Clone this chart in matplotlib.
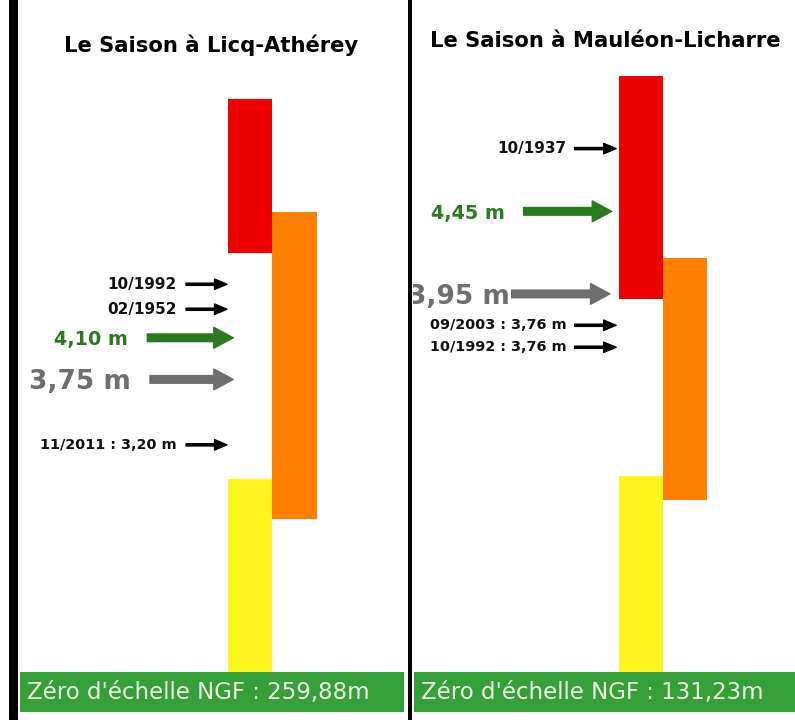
import matplotlib.pyplot as plt
from matplotlib.patches import Rectangle
from matplotlib import transforms

# vigilance bands (level in m on the gauge): red, orange, yellow
band_colors = ["#ec0000", "#ff8000", "#fff51e"]
band_cols = [0, 1, 0]

licq_bottom = [4.81, 2.58, 1.29]
licq_top = [6.11, 5.16, 2.91]
mauleon_bottom = [3.92, 2.70, 1.66]
mauleon_top = [5.27, 4.17, 2.85]

# recorded floods (label, level)
licq_events = ["10/1992", "02/1952", "11/2011 : 3,20 m"]
licq_event_levels = [4.55, 4.34, 3.20]
mauleon_events = ["10/1937", "09/2003 : 3,76 m", "10/1992 : 3,76 m"]
mauleon_event_levels = [4.83, 3.76, 3.76]

# reference levels: green then grey
licq_refs = [4.10, 3.75]
mauleon_refs = [4.45, 3.95]

titles = ["Le Saison à Licq-Athérey", "Le Saison à Mauléon-Licharre"]
ngf_zero = ["259,88m", "131,23m"]

W, H = 795, 720
fig = plt.figure(figsize=(W / 100, H / 100), dpi=100)
fig.patch.set_facecolor("white")


def fx(px):
    return px / W


def fy(py):
    return 1 - py / H


def fmt(v):
    return ("%.2f" % v).replace(".", ",") + " m"


def panel(left_px, right_px, ylim, bottoms, tops, events, levels, refs, lay):
    ax = fig.add_axes([fx(left_px), fy(672), fx(right_px - left_px), 672 / H])
    ax.set_xlim(-5.17, 3.5)
    ax.set_ylim(*ylim)
    ax.axis("off")
    for b, t, c, col in zip(bottoms, tops, band_colors, band_cols):
        ax.bar(col, t - b, bottom=b, width=1.0, color=c, linewidth=0)

    # stack repeated levels downwards
    seen = {}
    for lab, v in zip(events, levels):
        n = seen.get(v, 0)
        seen[v] = n + 1
        tr = transforms.offset_copy(ax.transData, fig=fig, x=0, y=-22 * n, units="dots")
        ax.annotate("", xy=(lay["tip"], v), xytext=(lay["tail"], v),
                    xycoords=tr, textcoords=tr,
                    arrowprops=dict(arrowstyle="simple,head_length=9,head_width=7.5,tail_width=1.6",
                                    mutation_scale=1, color="black", shrinkA=0, shrinkB=0))
        ax.text(lay["txt"], v, lab, transform=tr, ha="right", va="center",
                fontsize=10.4 if ":" in lab else 11, fontweight="bold", color="#111111")

    for v, c, fs, key in zip(refs, ["#2b7a1f", "#6e6e6e"], lay["ref_fs"], ["g", "r"]):
        ax.annotate("", xy=(lay[key + "tip"], v), xytext=(lay[key + "tail"], v),
                    arrowprops=dict(arrowstyle="simple,head_length=14,head_width=15,tail_width=5.5",
                                    mutation_scale=1, color=c, shrinkA=0, shrinkB=0))
        ax.text(lay[key + "txt"], v, fmt(v), ha="right", va="center_baseline",
                fontsize=fs, fontweight="bold", color=c, clip_on=True)
    return ax


panel(20, 406, (1.29, 6.94), licq_bottom, licq_top, licq_events, licq_event_levels, licq_refs,
      dict(tip=-0.52, tail=-1.44, txt=-1.66, gtip=-0.38, gtail=-2.31, gtxt=-2.74,
           rtip=-0.38, rtail=-2.25, rtxt=-2.68, ref_fs=[13.8, 19]))
panel(413, 795, (1.66, 5.73), mauleon_bottom, mauleon_top, mauleon_events, mauleon_event_levels,
      mauleon_refs,
      dict(tip=-0.56, tail=-1.50, txt=-1.68, gtip=-0.66, gtail=-2.66, gtxt=-3.09,
           rtip=-0.70, rtail=-2.93, rtxt=-2.97, ref_fs=[13.8, 19]))

# titles
fig.text(fx(211), fy(45), titles[0], ha="center", va="center", fontsize=15.2, fontweight="bold")
fig.text(fx(605), fy(41), titles[1], ha="center", va="center", fontsize=15.2, fontweight="bold")

# NGF zero banners
for x0, x1, lab in [(20, 404, ngf_zero[0]), (414, 795, ngf_zero[1])]:
    fig.add_artist(Rectangle((fx(x0), fy(712)), fx(x1 - x0), 40 / H,
                             transform=fig.transFigure, color="#35a037", lw=0))
    fig.text(fx(x0 + 7), fy(692), "Zéro d'échelle NGF : " + lab, ha="left", va="center",
             fontsize=16.5, color="#eef7e6")

# frame lines
fig.add_artist(Rectangle((fx(9), 0), fx(9), 1, transform=fig.transFigure, color="black", lw=0))
fig.add_artist(Rectangle((fx(408), 0), fx(4), 1, transform=fig.transFigure, color="black", lw=0))

fig.savefig("out.png", dpi=100)
